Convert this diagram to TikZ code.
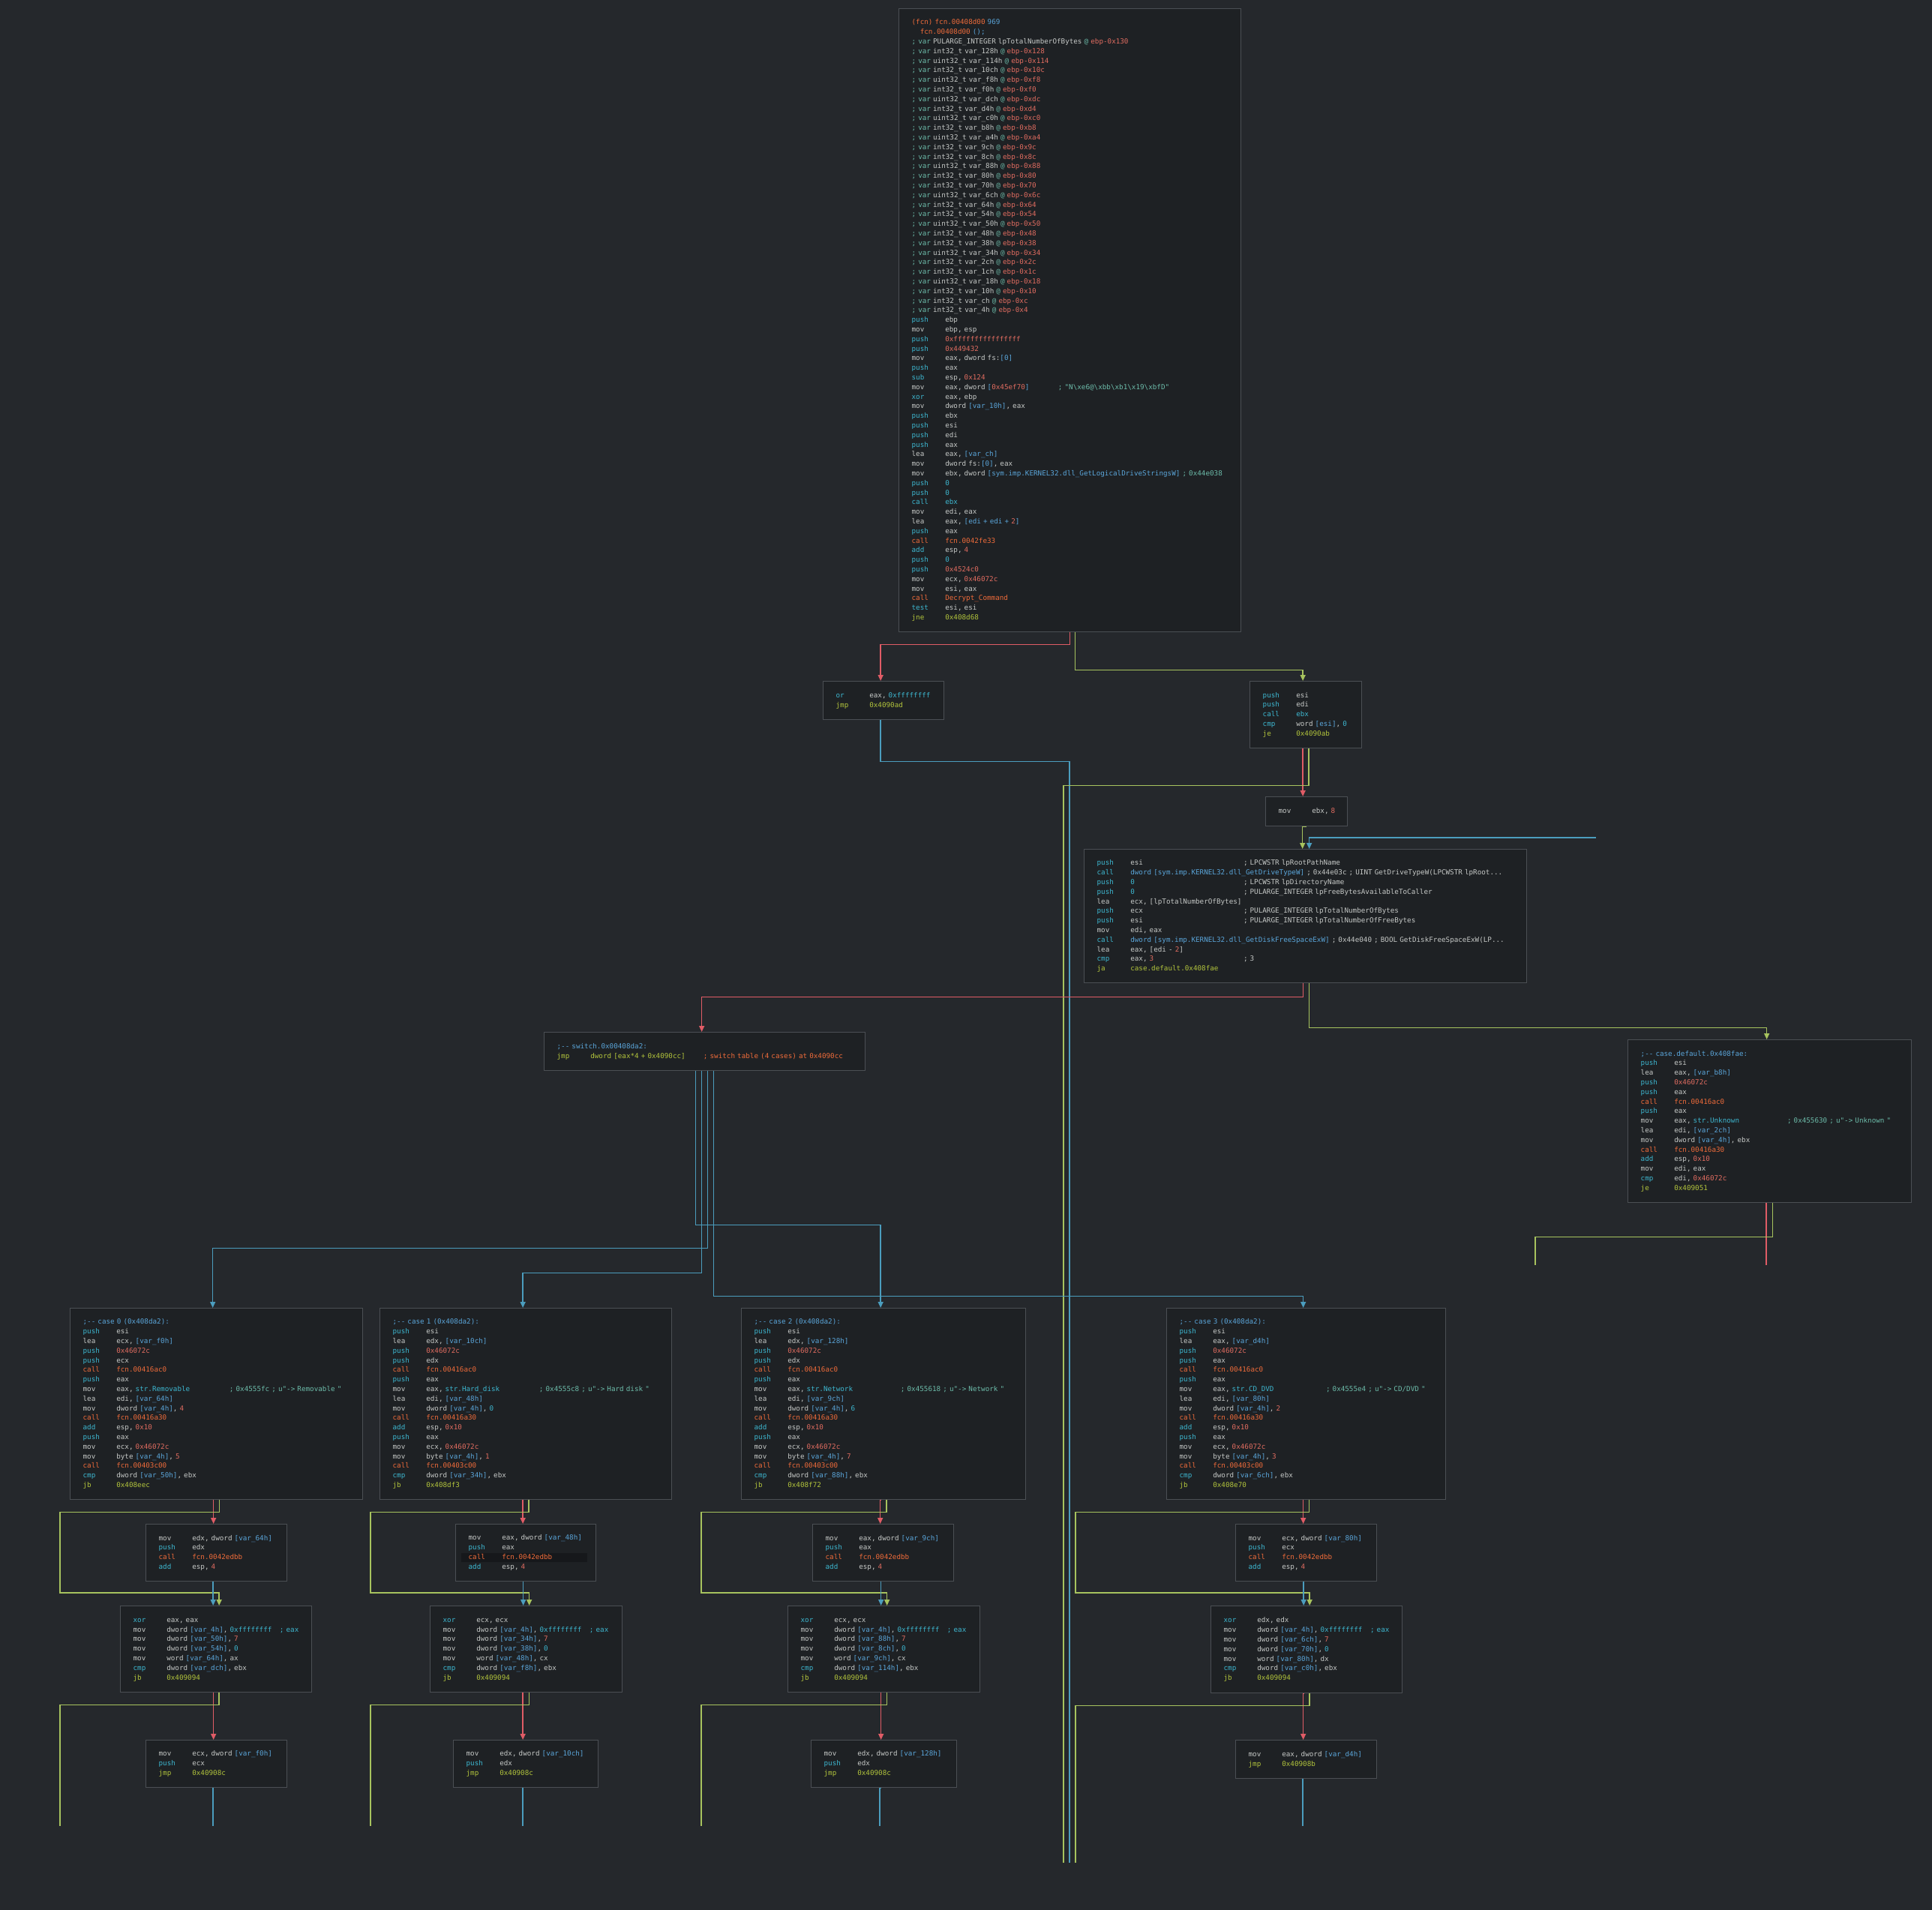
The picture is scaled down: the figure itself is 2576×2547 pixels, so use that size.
\documentclass[tikz,border=0pt]{standalone}
\usepackage{fontspec}
\setmonofont{DejaVu Sans Mono}
\usetikzlibrary{arrows.meta}

\definecolor{bgc}{HTML}{25282C}
\definecolor{boxc}{HTML}{1E2124}
\definecolor{edgec}{HTML}{4B4F54}
\definecolor{txt}{HTML}{C5C8C6}
\definecolor{cyn}{HTML}{3DB6CF}
\definecolor{blu}{HTML}{5AA5D9}
\definecolor{num}{HTML}{E06C60}
\definecolor{org}{HTML}{EE6B3A}
\definecolor{ylw}{HTML}{B2C43C}
\definecolor{cmt}{HTML}{6CBBA9}
\definecolor{hl}{HTML}{16181B}
\definecolor{eRed}{HTML}{E05C66}
\definecolor{eGrn}{HTML}{A7C35E}
\definecolor{eBlu}{HTML}{4B9DBE}

\newlength\cw
\newcommand\asm{\ttfamily\fontsize{9.27pt}{12.8pt}\selectfont}
\AtBeginDocument{\settowidth\cw{\asm 0}}
% one block of disassembly
\newcommand\code[1]{\begin{tabular}{@{}l@{}}#1\end{tabular}}
% mnemonics, padded to the operand column
\newcommand\mC[1]{\makebox[8\cw][l]{\color{cyn}#1}}
\newcommand\mG[1]{\makebox[8\cw][l]{\color{txt}#1}}
\newcommand\mO[1]{\makebox[8\cw][l]{\color{org}#1}}
\newcommand\mY[1]{\makebox[8\cw][l]{\color{ylw}#1}}
\newcommand\tC[1]{\textcolor{cyn}{#1}}
\newcommand\tB[1]{\textcolor{blu}{#1}}
\newcommand\tR[1]{\textcolor{num}{#1}}
\newcommand\tO[1]{\textcolor{org}{#1}}
\newcommand\tY[1]{\textcolor{ylw}{#1}}
\newcommand\tT[1]{\textcolor{cmt}{#1}}
% pad to the comment column
\newcommand\pre[1]{\makebox[35\cw][l]{#1}}
\newcommand\V[2]{\tT{; var} #1 \tT{@} \tR{ebp-#2}}

\begin{document}
\begin{tikzpicture}[x=1pt, y=-1pt,
  blk/.style={draw=edgec, fill=boxc, line width=1.3pt, anchor=north west,
    inner xsep=17pt, inner ysep=0pt, align=left, text=txt, font=\asm},
  eR/.style={draw=eRed, line width=1.4pt},
  eG/.style={draw=eGrn, line width=1.4pt},
  eB/.style={draw=eBlu, line width=1.4pt},
  arw/.style={-{Triangle[length=8pt,width=7pt]}}]
\fill[bgc] (0,0) rectangle (2576,2547);
\useasboundingbox (0,0) rectangle (2576,2547);

% entry block
\node[blk, text width=422pt, minimum height=831pt] (entry) at (1198,11) {\code{%
\tO{(fcn) fcn.00408d00} \tB{969}\\
\hspace*{2\cw}\tO{fcn.00408d00} \tB{();}\\
\V{PULARGE\_INTEGER lpTotalNumberOfBytes}{0x130}\\
\V{int32\_t var\_128h}{0x128}\\
\V{uint32\_t var\_114h}{0x114}\\
\V{int32\_t var\_10ch}{0x10c}\\
\V{uint32\_t var\_f8h}{0xf8}\\
\V{int32\_t var\_f0h}{0xf0}\\
\V{uint32\_t var\_dch}{0xdc}\\
\V{int32\_t var\_d4h}{0xd4}\\
\V{uint32\_t var\_c0h}{0xc0}\\
\V{int32\_t var\_b8h}{0xb8}\\
\V{uint32\_t var\_a4h}{0xa4}\\
\V{int32\_t var\_9ch}{0x9c}\\
\V{int32\_t var\_8ch}{0x8c}\\
\V{uint32\_t var\_88h}{0x88}\\
\V{int32\_t var\_80h}{0x80}\\
\V{int32\_t var\_70h}{0x70}\\
\V{uint32\_t var\_6ch}{0x6c}\\
\V{int32\_t var\_64h}{0x64}\\
\V{int32\_t var\_54h}{0x54}\\
\V{uint32\_t var\_50h}{0x50}\\
\V{int32\_t var\_48h}{0x48}\\
\V{int32\_t var\_38h}{0x38}\\
\V{uint32\_t var\_34h}{0x34}\\
\V{int32\_t var\_2ch}{0x2c}\\
\V{int32\_t var\_1ch}{0x1c}\\
\V{uint32\_t var\_18h}{0x18}\\
\V{int32\_t var\_10h}{0x10}\\
\V{int32\_t var\_ch}{0xc}\\
\V{int32\_t var\_4h}{0x4}\\
\mC{push}ebp\\
\mG{mov}ebp, esp\\
\mC{push}\tR{0xffffffffffffffff}\\
\mC{push}\tR{0x449432}\\
\mG{mov}eax, dword fs:\tB{[0]}\\
\mC{push}eax\\
\mC{sub}esp, \tR{0x124}\\
\pre{\mG{mov}eax, dword \tB{[}\tR{0x45ef70}\tB{]}}\tT{; "N\textbackslash{}xe6@\textbackslash{}xbb\textbackslash{}xb1\textbackslash{}x19\textbackslash{}xbfD"}\\
\mC{xor}eax, ebp\\
\mG{mov}dword \tB{[var\_10h]}, eax\\
\mC{push}ebx\\
\mC{push}esi\\
\mC{push}edi\\
\mC{push}eax\\
\mG{lea}eax, \tB{[var\_ch]}\\
\mG{mov}dword fs:\tB{[0]}, eax\\
\mG{mov}ebx, dword \tB{[sym.imp.KERNEL32.dll\_GetLogicalDriveStringsW]} \tT{; 0x44e038}\\
\mC{push}\tC{0}\\
\mC{push}\tC{0}\\
\mC{call}\tC{ebx}\\
\mG{mov}edi, eax\\
\mG{lea}eax, \tB{[edi + edi + }\tR{2}\tB{]}\\
\mC{push}eax\\
\mO{call}\tO{fcn.0042fe33}\\
\mC{add}esp, \tR{4}\\
\mC{push}\tC{0}\\
\mC{push}\tR{0x4524c0}\\
\mG{mov}ecx, \tR{0x46072c}\\
\mG{mov}esi, eax\\
\mO{call}\tO{Decrypt\_Command}\\
\mC{test}esi, esi\\
\mY{jne}\tY{0x408d68}}};

\node[blk, text width=127pt, minimum height=51pt] (fail) at (1097,908) {\code{%
\mC{or}eax, \tC{0xffffffff}\\
\mY{jmp}\tY{0x4090ad}}};
\node[blk, text width=115pt, minimum height=89pt] (loop) at (1666,908) {\code{%
\mC{push}esi\\
\mC{push}edi\\
\mC{call}\tC{ebx}\\
\mC{cmp}word \tB{[esi]}, \tC{0}\\
\mY{je}\tY{0x4090ab}}};
\node[blk, text width=75pt, minimum height=39pt] (setb) at (1687,1062) {\code{%
\mG{mov}ebx, \tR{8}}};

\node[blk, text width=556pt, minimum height=178pt] (drive) at (1445,1132) {\code{%
\pre{\mC{push}esi}; LPCWSTR lpRootPathName\\
\mC{call}\tB{dword [sym.imp.KERNEL32.dll\_GetDriveTypeW]} ; 0x44e03c ; UINT GetDriveTypeW(LPCWSTR lpRoot...\\
\pre{\mC{push}\tC{0}}; LPCWSTR lpDirectoryName\\
\pre{\mC{push}\tC{0}}; PULARGE\_INTEGER lpFreeBytesAvailableToCaller\\
\mG{lea}ecx, [lpTotalNumberOfBytes]\\
\pre{\mC{push}ecx}; PULARGE\_INTEGER lpTotalNumberOfBytes\\
\pre{\mC{push}esi}; PULARGE\_INTEGER lpTotalNumberOfFreeBytes\\
\mG{mov}edi, eax\\
\mC{call}\tB{dword [sym.imp.KERNEL32.dll\_GetDiskFreeSpaceExW]} ; 0x44e040 ; BOOL GetDiskFreeSpaceExW(LP...\\
\mG{lea}eax, [edi - \tR{2}]\\
\pre{\mC{cmp}eax, \tR{3}}; 3\\
\mY{ja}\tY{case.default.0x408fae}}};

\node[blk, text width=394pt, minimum height=51pt] (sw) at (725,1376) {\code{%
\tB{;-- switch.0x00408da2:}\\
\pre{\mY{jmp}\tY{dword [eax*4 + 0x4090cc]}}\tO{; switch table (4 cases) at 0x4090cc}}};

\node[blk, text width=344pt, minimum height=217pt] (dflt) at (2170,1386) {\code{%
\tB{;-- case.default.0x408fae:}\\
\mC{push}esi\\
\mG{lea}eax, \tB{[var\_b8h]}\\
\mC{push}\tR{0x46072c}\\
\mC{push}eax\\
\mO{call}\tO{fcn.00416ac0}\\
\mC{push}eax\\
\pre{\mG{mov}eax, \tC{str.Unknown}}\tT{; 0x455630 ; u"-> Unknown "}\\
\mG{lea}edi, \tB{[var\_2ch]}\\
\mG{mov}dword \tB{[var\_4h]}, ebx\\
\mO{call}\tO{fcn.00416a30}\\
\mC{add}esp, \tR{0x10}\\
\mG{mov}edi, eax\\
\mC{cmp}edi, \tR{0x46072c}\\
\mY{je}\tY{0x409051}}};

% the four cases
\node[blk, text width=356pt, minimum height=255pt] (c0) at (93,1744) {\code{%
\tB{;-- case 0 (0x408da2):}\\
\mC{push}esi\\
\mG{lea}ecx, \tB{[var\_f0h]}\\
\mC{push}\tR{0x46072c}\\
\mC{push}ecx\\
\mO{call}\tO{fcn.00416ac0}\\
\mC{push}eax\\
\pre{\mG{mov}eax, \tC{str.Removable}}\tT{; 0x4555fc ; u"-> Removable "}\\
\mG{lea}edi, \tB{[var\_64h]}\\
\mG{mov}dword \tB{[var\_4h]}, \tR{4}\\
\mO{call}\tO{fcn.00416a30}\\
\mC{add}esp, \tR{0x10}\\
\mC{push}eax\\
\mG{mov}ecx, \tR{0x46072c}\\
\mG{mov}byte \tB{[var\_4h]}, \tR{5}\\
\mO{call}\tO{fcn.00403c00}\\
\mC{cmp}dword \tB{[var\_50h]}, ebx\\
\mY{jb}\tY{0x408eec}}};
\node[blk, text width=355pt, minimum height=255pt] (c1) at (506,1744) {\code{%
\tB{;-- case 1 (0x408da2):}\\
\mC{push}esi\\
\mG{lea}edx, \tB{[var\_10ch]}\\
\mC{push}\tR{0x46072c}\\
\mC{push}edx\\
\mO{call}\tO{fcn.00416ac0}\\
\mC{push}eax\\
\pre{\mG{mov}eax, \tC{str.Hard\_disk}}\tT{; 0x4555c8 ; u"-> Hard disk "}\\
\mG{lea}edi, \tB{[var\_48h]}\\
\mG{mov}dword \tB{[var\_4h]}, \tC{0}\\
\mO{call}\tO{fcn.00416a30}\\
\mC{add}esp, \tR{0x10}\\
\mC{push}eax\\
\mG{mov}ecx, \tR{0x46072c}\\
\mG{mov}byte \tB{[var\_4h]}, \tR{1}\\
\mO{call}\tO{fcn.00403c00}\\
\mC{cmp}dword \tB{[var\_34h]}, ebx\\
\mY{jb}\tY{0x408df3}}};
\node[blk, text width=345pt, minimum height=255pt] (c2) at (988,1744) {\code{%
\tB{;-- case 2 (0x408da2):}\\
\mC{push}esi\\
\mG{lea}edx, \tB{[var\_128h]}\\
\mC{push}\tR{0x46072c}\\
\mC{push}edx\\
\mO{call}\tO{fcn.00416ac0}\\
\mC{push}eax\\
\pre{\mG{mov}eax, \tC{str.Network}}\tT{; 0x455618 ; u"-> Network "}\\
\mG{lea}edi, \tB{[var\_9ch]}\\
\mG{mov}dword \tB{[var\_4h]}, \tC{6}\\
\mO{call}\tO{fcn.00416a30}\\
\mC{add}esp, \tR{0x10}\\
\mC{push}eax\\
\mG{mov}ecx, \tR{0x46072c}\\
\mG{mov}byte \tB{[var\_4h]}, \tR{7}\\
\mO{call}\tO{fcn.00403c00}\\
\mC{cmp}dword \tB{[var\_88h]}, ebx\\
\mY{jb}\tY{0x408f72}}};
\node[blk, text width=338pt, minimum height=255pt] (c3) at (1555,1744) {\code{%
\tB{;-- case 3 (0x408da2):}\\
\mC{push}esi\\
\mG{lea}eax, \tB{[var\_d4h]}\\
\mC{push}\tR{0x46072c}\\
\mC{push}eax\\
\mO{call}\tO{fcn.00416ac0}\\
\mC{push}eax\\
\pre{\mG{mov}eax, \tC{str.CD\_DVD}}\tT{; 0x4555e4 ; u"-> CD/DVD "}\\
\mG{lea}edi, \tB{[var\_80h]}\\
\mG{mov}dword \tB{[var\_4h]}, \tR{2}\\
\mO{call}\tO{fcn.00416a30}\\
\mC{add}esp, \tR{0x10}\\
\mC{push}eax\\
\mG{mov}ecx, \tR{0x46072c}\\
\mG{mov}byte \tB{[var\_4h]}, \tR{3}\\
\mO{call}\tO{fcn.00403c00}\\
\mC{cmp}dword \tB{[var\_6ch]}, ebx\\
\mY{jb}\tY{0x408e70}}};

% freeing the old string
\node[blk, text width=154pt, minimum height=76pt] (f0) at (194,2032) {\code{%
\mG{mov}edx, dword \tB{[var\_64h]}\\
\mC{push}edx\\
\mO{call}\tO{fcn.0042edbb}\\
\mC{add}esp, \tR{4}}};
\node[blk, text width=153pt, minimum height=76pt] (f1) at (607,2032) {\code{%
\mG{mov}eax, dword \tB{[var\_48h]}\\
\mC{push}eax\\
\makebox[0pt][l]{\hspace*{-10pt}\textcolor{hl}{\rule[-3.6pt]{168pt}{12.8pt}}}\mO{call}\tO{fcn.0042edbb}\\
\mC{add}esp, \tR{4}}};
\node[blk, text width=154pt, minimum height=76pt] (f2) at (1083,2032) {\code{%
\mG{mov}eax, dword \tB{[var\_9ch]}\\
\mC{push}eax\\
\mO{call}\tO{fcn.0042edbb}\\
\mC{add}esp, \tR{4}}};
\node[blk, text width=154pt, minimum height=76pt] (f3) at (1647,2032) {\code{%
\mG{mov}ecx, dword \tB{[var\_80h]}\\
\mC{push}ecx\\
\mO{call}\tO{fcn.0042edbb}\\
\mC{add}esp, \tR{4}}};

\node[blk, text width=221pt, minimum height=115pt] (x0) at (160,2141) {\code{%
\mC{xor}eax, eax\\
\pre{\mG{mov}dword \tB{[var\_4h]}, \tC{0xffffffff}}\tC{; eax}\\
\mG{mov}dword \tB{[var\_50h]}, \tR{7}\\
\mG{mov}dword \tB{[var\_54h]}, \tC{0}\\
\mG{mov}word \tB{[var\_64h]}, ax\\
\mC{cmp}dword \tB{[var\_dch]}, ebx\\
\mY{jb}\tY{0x409094}}};
\node[blk, text width=222pt, minimum height=115pt] (x1) at (573,2141) {\code{%
\mC{xor}ecx, ecx\\
\pre{\mG{mov}dword \tB{[var\_4h]}, \tC{0xffffffff}}\tC{; eax}\\
\mG{mov}dword \tB{[var\_34h]}, \tR{7}\\
\mG{mov}dword \tB{[var\_38h]}, \tC{0}\\
\mG{mov}word \tB{[var\_48h]}, cx\\
\mC{cmp}dword \tB{[var\_f8h]}, ebx\\
\mY{jb}\tY{0x409094}}};
\node[blk, text width=222pt, minimum height=115pt] (x2) at (1050,2141) {\code{%
\mC{xor}ecx, ecx\\
\pre{\mG{mov}dword \tB{[var\_4h]}, \tC{0xffffffff}}\tC{; eax}\\
\mG{mov}dword \tB{[var\_88h]}, \tR{7}\\
\mG{mov}dword \tB{[var\_8ch]}, \tC{0}\\
\mG{mov}word \tB{[var\_9ch]}, cx\\
\mC{cmp}dword \tB{[var\_114h]}, ebx\\
\mY{jb}\tY{0x409094}}};
\node[blk, text width=221pt, minimum height=116pt] (x3) at (1614,2141) {\code{%
\mC{xor}edx, edx\\
\pre{\mG{mov}dword \tB{[var\_4h]}, \tC{0xffffffff}}\tC{; eax}\\
\mG{mov}dword \tB{[var\_6ch]}, \tR{7}\\
\mG{mov}dword \tB{[var\_70h]}, \tC{0}\\
\mG{mov}word \tB{[var\_80h]}, dx\\
\mC{cmp}dword \tB{[var\_c0h]}, ebx\\
\mY{jb}\tY{0x409094}}};

\node[blk, text width=154pt, minimum height=63pt] (m0) at (194,2320) {\code{%
\mG{mov}ecx, dword \tB{[var\_f0h]}\\
\mC{push}ecx\\
\mY{jmp}\tY{0x40908c}}};
\node[blk, text width=159pt, minimum height=63pt] (m1) at (604,2320) {\code{%
\mG{mov}edx, dword \tB{[var\_10ch]}\\
\mC{push}edx\\
\mY{jmp}\tY{0x40908c}}};
\node[blk, text width=160pt, minimum height=63pt] (m2) at (1081,2320) {\code{%
\mG{mov}edx, dword \tB{[var\_128h]}\\
\mC{push}edx\\
\mY{jmp}\tY{0x40908c}}};
\node[blk, text width=154pt, minimum height=51pt] (m3) at (1647,2320) {\code{%
\mG{mov}eax, dword \tB{[var\_d4h]}\\
\mY{jmp}\tY{0x40908b}}};

% loose ends (targets outside the view)
\coordinate (jmpEnd) at (1426,2484);
\coordinate (jeEnd) at (1418,2484);
\coordinate (backIn) at (2128,1117);
\coordinate (dRed) at (2355,1687);
\coordinate (dGrn) at (2047,1687);
\coordinate (g0) at (80,2435);
\coordinate (b0) at (284,2435);
\coordinate (g1) at (494,2435);
\coordinate (b1) at (697,2435);
\coordinate (g2) at (935,2435);
\coordinate (b2) at (1173,2435);
\coordinate (g3) at (1434,2484);
\coordinate (b3) at (1737,2435);

% edges
\draw[eR, arw] (entry.south) -- ++(0,16) -| ([xshift=-4pt]fail.north);
\draw[eG, arw] ([xshift=7pt]entry.south) -- ++(0,50) -| ([xshift=-4pt]loop.north);
\draw[eB] ([xshift=-4pt]fail.south) -- ++(0,55) -| (jmpEnd);
\draw[eR, arw] ([xshift=-4pt]loop.south) -| ([xshift=-5pt]setb.north);
\draw[eG] ([xshift=4pt]loop.south) -- ++(0,49) -| (jeEnd);
\draw[eG, arw] (setb.south) -| ([xshift=-4pt]drive.north);
\draw[eB, arw] (backIn) -| ([xshift=5pt]drive.north);
\draw[eR, arw] ([xshift=-3pt]drive.south) -- ++(0,18) -| ([xshift=-4pt]sw.north);
\draw[eG, arw] ([xshift=5pt]drive.south) -- ++(0,59) -| ([xshift=-4pt]dflt.north);
\draw[eB, arw] ([xshift=-12pt]sw.south) -- ++(0,205) -| ([xshift=-4pt]c2.north);
\draw[eB, arw] ([xshift=4pt]sw.south) -- ++(0,236) -| ([xshift=-5pt]c0.north);
\draw[eB, arw] ([xshift=-4pt]sw.south) -- ++(0,269) -| ([xshift=-4pt]c1.north);
\draw[eB, arw] ([xshift=12pt]sw.south) -- ++(0,300) -| ([xshift=-4pt]c3.north);
\draw[eR] ([xshift=-4pt]dflt.south) -| (dRed);
\draw[eG] ([xshift=4pt]dflt.south) -- ++(0,45) -| (dGrn);

% case 0
\draw[eR, arw] ([xshift=-5pt]c0.south) -| ([xshift=-4pt]f0.north);
\draw[eG, arw] ([xshift=4pt]c0.south) -- ++(0,16) -| (80,2124) -| ([xshift=4pt]x0.north);
\draw[eB, arw] ([xshift=-4pt]f0.south) -| ([xshift=-4pt]x0.north);
\draw[eR, arw] ([xshift=-4pt]x0.south) -| ([xshift=-4pt]m0.north);
\draw[eG] ([xshift=4pt]x0.south) -- ++(0,16) -| (g0);
\draw[eB] ([xshift=-4pt]m0.south) -| (b0);
% case 1
\draw[eR, arw] ([xshift=-4pt]c1.south) -| ([xshift=-4pt]f1.north);
\draw[eG, arw] ([xshift=4pt]c1.south) -- ++(0,16) -| (494,2124) -| ([xshift=4pt]x1.north);
\draw[eB, arw] ([xshift=-4pt]f1.south) -| ([xshift=-4pt]x1.north);
\draw[eR, arw] ([xshift=-4pt]x1.south) -| ([xshift=-4pt]m1.north);
\draw[eG] ([xshift=4pt]x1.south) -- ++(0,16) -| (g1);
\draw[eB] ([xshift=-4pt]m1.south) -| (b1);
% case 2
\draw[eR, arw] ([xshift=-4pt]c2.south) -| ([xshift=-4pt]f2.north);
\draw[eG, arw] ([xshift=4pt]c2.south) -- ++(0,16) -| (935,2124) -| ([xshift=4pt]x2.north);
\draw[eB, arw] ([xshift=-4pt]f2.south) -| ([xshift=-4pt]x2.north);
\draw[eR, arw] ([xshift=-4pt]x2.south) -| ([xshift=-4pt]m2.north);
\draw[eG] ([xshift=4pt]x2.south) -- ++(0,16) -| (g2);
\draw[eB] ([xshift=-4pt]m2.south) -| (b2);
% case 3
\draw[eR, arw] ([xshift=-4pt]c3.south) -| ([xshift=-4pt]f3.north);
\draw[eG, arw] ([xshift=4pt]c3.south) -- ++(0,16) -| (1434,2124) -| ([xshift=4pt]x3.north);
\draw[eB, arw] ([xshift=-4pt]f3.south) -| ([xshift=-4pt]x3.north);
\draw[eR, arw] ([xshift=-4pt]x3.south) -| ([xshift=-4pt]m3.north);
\draw[eG] ([xshift=4pt]x3.south) -- ++(0,16) -| (g3);
\draw[eB] ([xshift=-4pt]m3.south) -| (b3);
\end{tikzpicture}
\end{document}
